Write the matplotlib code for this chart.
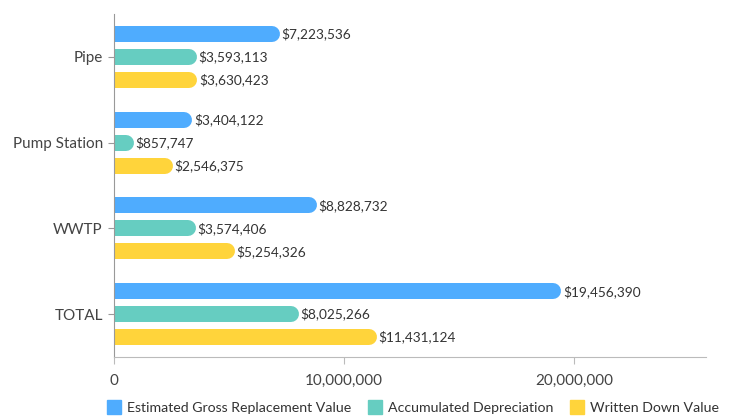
import matplotlib.pyplot as plt
from matplotlib.lines import Line2D

plt.rcParams['font.family'] = ['Lato', 'DejaVu Sans']

categories = ['Pipe', 'Pump Station', 'WWTP', 'TOTAL']
series_names = ['Estimated Gross Replacement Value', 'Accumulated Depreciation', 'Written Down Value']
gross = [7223536, 3404122, 8828732, 19456390]
depreciation = [3593113, 857747, 3574406, 8025266]
written_down = [3630423, 2546375, 5254326, 11431124]
colors = ['#4facfe', '#66cdc1', '#ffd43b']
xticks = [0, 10000000, 20000000]

fig = plt.figure(figsize=(7.32, 4.16), dpi=100)
ax = fig.add_axes([0.1557, 0.1418, 0.8088, 0.8245])

xmax = 25740000
ax.set_xlim(0, xmax)
ax.set_ylim(3.5, -0.5)

bar_px = 16
lw_pt = bar_px * 72 / 100
ax_w_px = 0.8088 * 732
radius = (bar_px / 2) / ax_w_px * xmax  # half cap width in data units

offsets = [-0.267, 0, 0.267]
for vals, off, col in zip([gross, depreciation, written_down], offsets, colors):
    for i, v in enumerate(vals):
        y = i + off
        ax.plot([0, v - radius], [y, y], color=col, lw=lw_pt, solid_capstyle='round', zorder=2)
        ax.text(v + 70000, y, '${:,}'.format(v), va='center', ha='left', fontsize=9.8, color='#333333')

ax.set_yticks(range(len(categories)))
ax.set_yticklabels(categories, fontsize=11, color='#444444')
ax.set_xticks(xticks)
ax.set_xticklabels(['{:,}'.format(t) for t in xticks], fontsize=11, color='#444444')
ax.tick_params(axis='y', length=4, color='#999999', pad=4)
ax.tick_params(axis='x', length=5, color='#bbbbbb', pad=7)

for s in ['top', 'right']:
    ax.spines[s].set_visible(False)
ax.spines['left'].set_color('#999999')
ax.spines['bottom'].set_color('#bbbbbb')

handles = [Line2D([], [], marker='s', ls='', markersize=10, markerfacecolor=c, markeredgecolor=c)
           for c in colors]
ax.legend(handles, series_names, loc='upper center', bbox_to_anchor=(0.505, -0.095), ncol=3,
          frameon=False, fontsize=10.2, handlelength=1.0, handletextpad=0.4, columnspacing=1.2,
          labelcolor='#333333')

fig.savefig('out.png', dpi=100)
